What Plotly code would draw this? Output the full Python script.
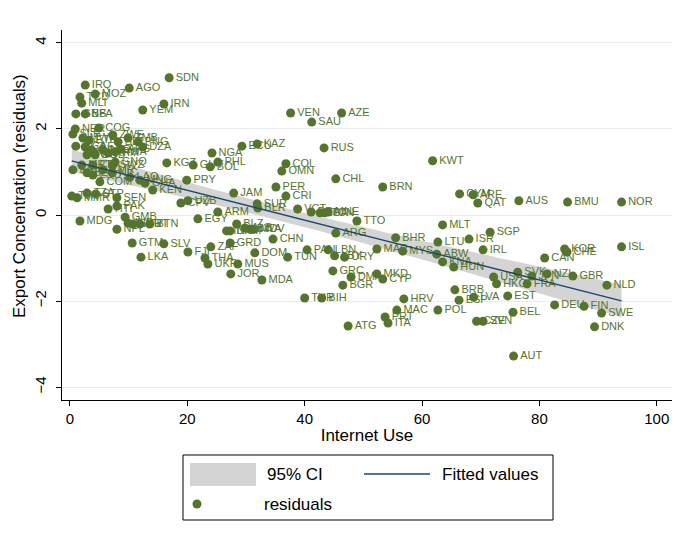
import numpy as np
import plotly.graph_objects as go

# Country codes, internet use (% of population) and export-concentration residuals
countries = [
    "SDN", "IRQ", "AGO", "MOZ", "TCD", "MLI", "IRN", "YEM", "BFA", "GNB",
    "VEN", "SAU", "AZE", "NGA", "ECU", "KAZ", "RUS", "KWT",
    "NER", "SLE", "COG", "MWI", "ETH", "ZWE", "ZMB", "BDI", "PNG", "DZA",
    "UGA", "CAF", "GIN", "LBR", "RWA", "AFG", "TGO", "BGD", "KHM", "GNQ",
    "MRT", "CIV", "ERI", "BEN", "LSO", "CMR", "NIC", "SWZ", "COM", "LAO",
    "MNG", "GHA", "KEN", "TJK", "MMR", "TZA", "STP", "SEN", "PAK", "HTI",
    "MDG", "GMB", "NPL", "IND", "SYR", "VUT", "BTN", "KGZ", "GUY", "BOL",
    "PHL", "PRY", "CPV", "UZB", "EGY", "ARM", "GTM", "SLV", "LKA", "FJI",
    "ZAF", "THA", "UKR", "MUS", "JOR", "MDA", "GRD", "DOM", "CHN", "BLZ",
    "IDN", "NAM", "ALB", "BWA", "MDV", "JAM", "PER", "CRI", "COL", "OMN",
    "CHL", "SUR", "BLR", "VCT", "BRA", "LCA", "TON", "MNE", "TTO", "ARG",
    "PAN", "LBN", "LBY", "URY", "TUN", "GRC", "DMA", "BGR", "MKD", "CYP",
    "TUR", "BIH", "ATG", "BRN", "CYM", "ARE", "QAT", "MLT", "SGP", "BHR",
    "LTU", "ISR", "MAR", "MYS", "ABW", "IRL", "KNA", "HUN", "USA", "HKG",
    "FRA", "SVK", "JPN", "NZL", "GBR", "NLD", "EST", "DEU", "FIN", "SWE",
    "BEL", "DNK", "AUT", "AUS", "BMU", "NOR", "ISL", "KOR", "CHE", "CAN",
    "BRB", "ESP", "LVA", "HRV", "MAC", "POL", "PRT", "ITA", "CZE", "SVN",
]
internet = [
    16.9, 2.6, 10.1, 4.3, 1.7, 2.0, 16.0, 12.4, 2.6, 1.0,
    37.6, 41.2, 46.3, 24.2, 29.3, 31.9, 43.3, 61.8,
    0.9, 0.5, 4.9, 2.2, 3.2, 7.3, 9.9, 8.2, 11.6, 12.4,
    1.0, 2.6, 3.7, 5.6, 7.7, 8.7, 2.9, 4.3, 6.5, 7.7,
    2.0, 3.9, 0.5, 2.9, 3.9, 5.6, 7.2, 7.3, 5.1, 10.2,
    11.9, 12.8, 14.1, 0.3, 1.2, 2.9, 4.4, 8.0, 8.0, 6.5,
    1.7, 9.4, 8.0, 9.9, 10.7, 11.9, 13.6, 16.5, 21.0, 23.9,
    25.2, 19.9, 18.9, 20.1, 21.8, 25.2, 10.6, 16.0, 12.1, 20.1,
    24.0, 23.0, 23.5, 28.6, 27.4, 32.7, 27.3, 31.5, 34.6, 28.4,
    26.7, 27.3, 29.8, 30.7, 31.3, 27.9, 35.1, 36.8, 36.8, 36.1,
    45.3, 31.9, 32.0, 38.8, 41.1, 42.6, 43.4, 44.0, 48.9, 45.3,
    40.4, 44.0, 45.1, 46.8, 37.1, 44.8, 47.9, 46.5, 52.3, 53.3,
    40.0, 42.9, 47.4, 53.3, 66.4, 68.7, 69.5, 63.5, 71.6, 55.5,
    62.7, 68.0, 52.3, 56.7, 62.5, 70.4, 63.5, 65.4, 72.2, 72.7,
    77.9, 76.3, 78.7, 81.3, 85.7, 91.5, 74.6, 82.6, 87.6, 90.6,
    75.5, 89.4, 75.6, 76.5, 84.8, 94.0, 94.0, 84.3, 84.7, 80.9,
    65.6, 66.3, 68.8, 56.9, 55.7, 62.7, 53.7, 54.2, 69.3, 70.4,
]
residuals = [
    3.19, 3.02, 2.95, 2.81, 2.74, 2.60, 2.58, 2.44, 2.35, 2.35,
    2.37, 2.16, 2.37, 1.44, 1.60, 1.65, 1.56, 1.26,
    2.00, 1.88, 2.02, 1.79, 1.74, 1.86, 1.79, 1.70, 1.70, 1.58,
    1.60, 1.58, 1.51, 1.51, 1.47, 1.53, 1.40, 1.40, 1.44, 1.23,
    1.16, 1.16, 1.05, 0.98, 0.93, 1.05, 0.98, 1.16, 0.77, 0.88,
    0.81, 0.74, 0.58, 0.44, 0.40, 0.51, 0.49, 0.40, 0.21, 0.14,
    -0.14, -0.05, -0.33, -0.19, -0.21, -0.21, -0.21, 1.21, 1.16, 1.12,
    1.23, 0.81, 0.28, 0.33, -0.09, 0.07, -0.65, -0.67, -0.98, -0.86,
    -0.74, -1.00, -1.14, -1.14, -1.37, -1.51, -0.65, -0.88, -0.56, -0.21,
    -0.37, -0.37, -0.30, -0.33, -0.33, 0.51, 0.65, 0.44, 1.19, 1.02,
    0.84, 0.26, 0.16, 0.14, 0.07, 0.05, 0.05, 0.07, -0.14, -0.42,
    -0.81, -0.81, -0.95, -0.98, -0.98, -1.30, -1.44, -1.63, -1.37, -1.49,
    -1.93, -1.93, -2.58, 0.65, 0.49, 0.47, 0.28, -0.23, -0.40, -0.53,
    -0.63, -0.56, -0.79, -0.84, -0.91, -0.81, -1.09, -1.21, -1.44, -1.60,
    -1.60, -1.33, -1.42, -1.37, -1.42, -1.63, -1.88, -2.09, -2.12, -2.28,
    -2.26, -2.60, -3.28, 0.33, 0.30, 0.30, -0.74, -0.79, -0.86, -1.00,
    -1.74, -1.98, -1.91, -1.95, -2.21, -2.21, -2.37, -2.51, -2.47, -2.47,
]

x_ticks = [0, 20, 40, 60, 80, 100]
y_ticks = [-4, -2, 0, 2, 4]

GREEN = "#55752f"
NAVY = "#1a476f"
CI_GRAY = "#d4d4d4"
FONT = "Liberation Sans, Arial, sans-serif"

# Linear fit with a 95% confidence band for the mean prediction
x = np.array(internet)
y = np.array(residuals)
n = len(x)
slope, intercept = np.polyfit(x, y, 1)
xs = np.linspace(x.min(), x.max(), 120)
fit = intercept + slope * xs
resid = y - (intercept + slope * x)
s = np.sqrt((resid ** 2).sum() / (n - 2))
sxx = ((x - x.mean()) ** 2).sum()
se = s * np.sqrt(1.0 / n + (xs - x.mean()) ** 2 / sxx)
t_crit = 1.974
lo, hi = fit - t_crit * se, fit + t_crit * se

fig = go.Figure()
fig.add_trace(go.Scatter(
    x=np.concatenate([xs, xs[::-1]]), y=np.concatenate([hi, lo[::-1]]),
    fill="toself", fillcolor=CI_GRAY, line=dict(width=0),
    mode="lines", name="95% CI", hoverinfo="skip", showlegend=False,
))
fig.add_trace(go.Scatter(
    x=x, y=y, mode="markers+text", text=countries, textposition="middle right",
    textfont=dict(family=FONT, size=11, color=GREEN),
    marker=dict(color=GREEN, size=9, line=dict(width=0)),
    name="residuals", showlegend=False,
))
fig.add_trace(go.Scatter(
    x=xs, y=fit, mode="lines", line=dict(color=NAVY, width=1.3),
    name="Fitted values", showlegend=False,
))

# Plot area in pixels: left 62, right 672, top 30, bottom 400
L, R, T, B = 62, 672, 30, 400


def px(v):
    return (v - L) / (R - L)


def py(v):
    return (B - v) / (B - T)


shapes = [
    dict(type="rect", xref="paper", yref="paper", x0=px(183), x1=px(553),
         y0=py(520), y1=py(455), line=dict(color="black", width=1)),
    dict(type="rect", xref="paper", yref="paper", x0=px(190), x1=px(256),
         y0=py(486), y1=py(463), line=dict(width=0), fillcolor=CI_GRAY),
    dict(type="line", xref="paper", yref="paper", x0=px(364), x1=px(430),
         y0=py(474), y1=py(474), line=dict(color=NAVY, width=1.3)),
    dict(type="circle", xref="paper", yref="paper", xsizemode="pixel",
         ysizemode="pixel", xanchor=px(197), yanchor=py(504),
         x0=-4.5, x1=4.5, y0=-4.5, y1=4.5, line=dict(width=0), fillcolor=GREEN),
]
legend_text = [("95% CI", 265, 474), ("Fitted values", 440, 474), ("residuals", 262, 504)]
annotations = [
    dict(text=t, xref="paper", yref="paper", x=px(a), y=py(b), xanchor="left",
         yanchor="middle", showarrow=False, font=dict(family=FONT, size=17, color="black"))
    for t, a, b in legend_text
]
# Vertical axis title
annotations.append(dict(
    text="Export Concentration (residuals)", xref="paper", yref="paper",
    x=px(19), y=py(196), xanchor="center", yanchor="middle", textangle=-90,
    showarrow=False, font=dict(family=FONT, size=17, color="black"),
))

fig.update_layout(
    width=678, height=538,
    margin=dict(l=L, r=678 - R, t=T, b=538 - B),
    paper_bgcolor="white", plot_bgcolor="white",
    font=dict(family=FONT, color="black"),
    showlegend=False,
    shapes=shapes, annotations=annotations,
    xaxis=dict(
        range=[-1.36, 102.6], tickvals=x_ticks, ticks="outside", ticklen=5,
        tickcolor="black", showline=True, linecolor="black", linewidth=1,
        showgrid=False, zeroline=False, tickfont=dict(size=15),
        title=dict(text="Internet Use", font=dict(size=17), standoff=3),
    ),
    yaxis=dict(
        range=[-4.3, 4.3], tickvals=y_ticks, ticks="outside", ticklen=5,
        tickcolor="black", showline=True, linecolor="black", linewidth=1,
        showgrid=True, gridcolor="#e6edf0", gridwidth=1, zeroline=False,
        tickangle=-90, tickfont=dict(size=15), ticklabelstandoff=4,
    ),
)

fig.write_html("out.html")
